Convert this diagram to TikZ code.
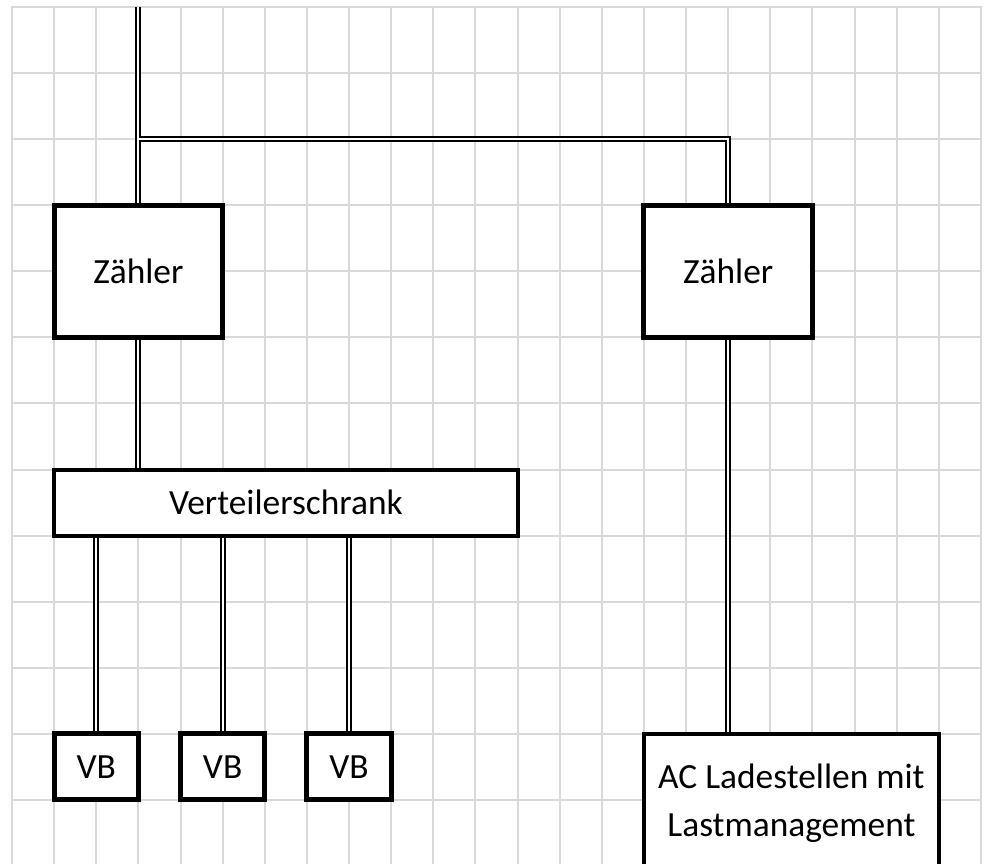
\documentclass[tikz,border=0pt]{standalone}
\usepackage{fontspec}
\setmainfont{Carlito}
\usetikzlibrary{backgrounds}
% one grid cell
\newcommand{\cw}{21.065pt}
\newcommand{\ch}{33.04pt}
\tikzset{
  gridline/.style={line width=1pt, color=black!15, line cap=rect},
  cable/.style={double=white, draw=black, line width=1pt, double distance=0.9pt},
  unit/.style={draw, fill=white, inner sep=0pt, align=center,
    font=\fontsize{17.7}{24}\selectfont},
  meter/.style={unit, line width=2.5pt, minimum width=4*\cw, minimum height=2*\ch},
  consumer/.style={unit, line width=2.5pt, minimum width=2*\cw, minimum height=\ch},
  cabinet/.style={unit, line width=2pt},
}
\begin{document}
\begin{tikzpicture}[x=\cw,y=-\ch]
  \useasboundingbox (-0.2848,-0.106) rectangle (23.119,12.954);
  \clip (-0.2848,-0.106) rectangle (23.119,12.954);
  \node[meter] (z1) at (3,4) {Zähler};
  \node[meter] (z2) at (17,4) {Zähler};
  \node[cabinet, minimum width=11*\cw, minimum height=\ch] (vs) at (6.5,7.5) {Verteilerschrank};
  \node[consumer] (vb1) at (2,11.5) {VB};
  \node[consumer] (vb2) at (5,11.5) {VB};
  \node[consumer] (vb3) at (8,11.5) {VB};
  \node[cabinet, minimum width=7*\cw, minimum height=2.1*\ch] (ac) at (18.5,12.05)
    {AC Ladestellen mit\\Lastmanagement};
  \coordinate (feed) at (3,0);
  \coordinate (split) at (3,2);
  \coordinate (bend) at (17,2);
  \begin{scope}[on background layer]
    % squared paper
    \foreach \k in {0,...,23}
      \draw[gridline] (\k,0) -- (\k,12.954);
    \foreach \j in {0,...,12}
      \draw[gridline] (0,\j) -- (23,\j);
    % supply lines
    \draw[cable] (feed) -- (z1.north) (split) -- (bend) -- (z2.north);
    \draw[cable] (z1.south) -- (z1.south |- vs.north);
    \draw[cable] (z2.south) -- (z2.south |- ac.north);
    \foreach \v in {vb1,vb2,vb3}
      \draw[cable] (\v.north |- vs.south) -- (\v.north);
  \end{scope}
\end{tikzpicture}
\end{document}
